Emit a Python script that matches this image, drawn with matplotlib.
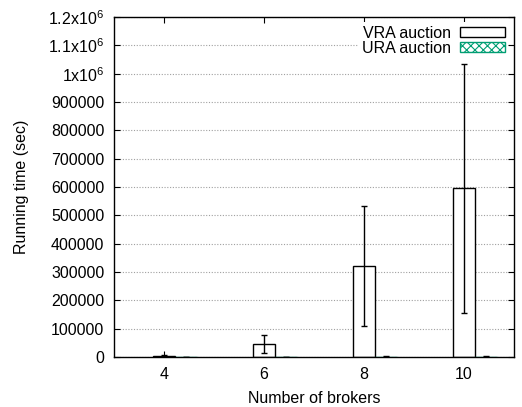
import matplotlib
matplotlib.use("Agg")
import matplotlib.pyplot as plt
from matplotlib.patches import Patch
from matplotlib.ticker import FixedLocator

plt.rcParams['font.family'] = ['Liberation Sans', 'DejaVu Sans']
plt.rcParams['mathtext.default'] = 'regular'
plt.rcParams['hatch.linewidth'] = 0.8

# donnees
brokers = [4, 6, 8, 10]
vra_moy = [2500, 44800, 321000, 595000]
vra_err = [4000, 32000, 213000, 439000]
ura_moy = [600, 900, 1200, 1500]
ura_err = [300, 400, 500, 600]

y_ticks = [0, 100000, 200000, 300000, 400000, 500000, 600000, 700000,
           800000, 900000, 1000000, 1100000, 1200000]
y_labels = ['0', '100000', '200000', '300000', '400000', '500000', '600000',
            '700000', '800000', '900000', '1x10$^{6}$', '1.1x10$^{6}$', '1.2x10$^{6}$']

largeur = 0.44
vert = '#009e73'
taille = 11.5

fig = plt.figure(figsize=(5.22, 4.07), dpi=100)
ax = fig.add_axes([0.2184, 0.1229, 0.7663, 0.8353])

x_vra = brokers
x_ura = [b + largeur for b in brokers]

ax.bar(x_vra, vra_moy, width=largeur, color='white', edgecolor='black',
       linewidth=1, zorder=3)
ax.errorbar(x_vra, vra_moy, yerr=vra_err, fmt='none', ecolor='black',
            elinewidth=1, capsize=2, capthick=1, zorder=4)
ax.bar(x_ura, ura_moy, width=largeur, color='white', edgecolor=vert,
       hatch='xxxx', linewidth=1, zorder=3)
ax.errorbar(x_ura, ura_moy, yerr=ura_err, fmt='none', ecolor='black',
            elinewidth=1, capsize=2, capthick=1, zorder=4)

ax.set_xlim(3, 11)
ax.set_ylim(0, 1200000)
ax.xaxis.set_major_locator(FixedLocator(brokers))
ax.set_yticks(y_ticks)
ax.set_yticklabels(y_labels)

ax.grid(axis='y', color='#a0a0a0', linestyle=(0, (1, 1.5)), linewidth=0.8, zorder=0)
ax.set_axisbelow(True)

ax.tick_params(direction='in', length=4, width=0.8, top=True, right=True,
               labelsize=taille, pad=7)
for s in ax.spines.values():
    s.set_linewidth(1)
    s.set_zorder(5)

ax.set_xlabel('Number of brokers', fontsize=taille, labelpad=7)
ax.set_ylabel('Running time (sec)', fontsize=taille, labelpad=14)

poignees = [Patch(facecolor='white', edgecolor='black', linewidth=1, label='VRA auction'),
            Patch(facecolor='white', edgecolor=vert, hatch='xxxx', linewidth=1, label='URA auction')]
leg = ax.legend(handles=poignees, loc='upper right', bbox_to_anchor=(0.997, 0.998),
                frameon=True, fancybox=False, edgecolor='none', framealpha=1,
                markerfirst=False, handlelength=2.8, handleheight=0.55,
                fontsize=taille, borderpad=0.2, labelspacing=0.0, handletextpad=0.6,
                borderaxespad=0.3)
leg.set_zorder(6)

fig.savefig('out.png', dpi=100)
